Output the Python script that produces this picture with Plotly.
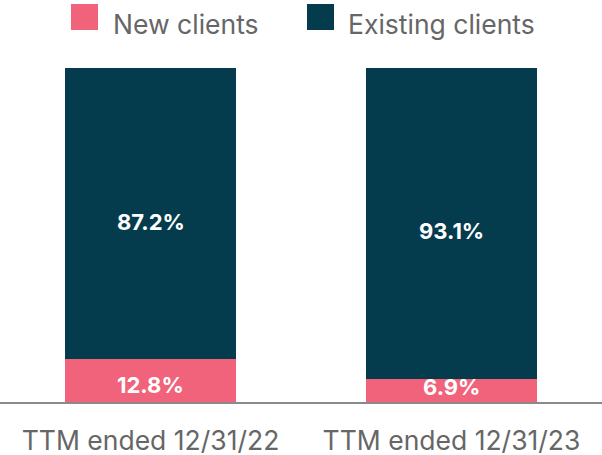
import plotly.graph_objects as go

categories = ["TTM ended 12/31/22", "TTM ended 12/31/23"]
new_clients = [12.8, 6.9]
existing_clients = [87.2, 93.1]
series_names = ["New clients", "Existing clients"]

PINK = "#F1627B"
DARK = "#043C4E"
FONT = "Inter, Roboto, sans-serif"

fig = go.Figure()
fig.add_trace(go.Bar(x=categories, y=new_clients, name=series_names[0],
                     marker=dict(color=PINK, line=dict(width=0)), width=0.565,
                     showlegend=False, hoverinfo="skip"))
fig.add_trace(go.Bar(x=categories, y=existing_clients, name=series_names[1],
                     marker=dict(color=DARK, line=dict(width=0)), width=0.565,
                     showlegend=False, hoverinfo="skip"))

annotations = []
small_shift = [-4, 3]
for i, cat in enumerate(categories):
    n, e = new_clients[i], existing_clients[i]
    annotations.append(dict(x=cat, y=n / 2, text=f"{n:.1f}%", showarrow=False,
                            yshift=small_shift[i],
                            font=dict(family=FONT, size=22, color="white", weight="bold")))
    annotations.append(dict(x=cat, y=n + e / 2, text=f"{e:.1f}%", showarrow=False,
                            yshift=-8,
                            font=dict(family=FONT, size=22, color="white", weight="bold")))

# legend (manual)
shapes = [
    dict(type="rect", xref="paper", yref="paper", x0=71/602, x1=98/602,
         y0=1 + (68-30)/334, y1=1 + (68-4)/334, fillcolor=PINK, line=dict(width=0)),
    dict(type="rect", xref="paper", yref="paper", x0=307/602, x1=334/602,
         y0=1 + (68-30)/334, y1=1 + (68-4)/334, fillcolor=DARK, line=dict(width=0)),
]
annotations.append(dict(xref="paper", yref="paper", x=111/602, y=1 + (68-24)/334,
                        xanchor="left", yanchor="middle", text=series_names[0],
                        showarrow=False, font=dict(family=FONT, size=26.5, color="#666666")))
annotations.append(dict(xref="paper", yref="paper", x=346/602, y=1 + (68-24)/334,
                        xanchor="left", yanchor="middle", text=series_names[1],
                        showarrow=False, font=dict(family=FONT, size=26.5, color="#666666")))

fig.update_layout(
    barmode="stack",
    width=602, height=455,
    margin=dict(l=0, r=0, t=68, b=53),
    paper_bgcolor="white", plot_bgcolor="white",
    annotations=annotations, shapes=shapes,
    hovermode=False,
    xaxis=dict(showline=True, linecolor="#8a8a8a", linewidth=2, ticks="",
               tickfont=dict(family=FONT, size=26.5, color="#666666"),
               ticklabelstandoff=14,
               showgrid=False, range=[-0.5, 1.5]),
    yaxis=dict(visible=False, range=[0, 100], showgrid=False, zeroline=False),
)
fig.write_html("out.html", config={"displayModeBar": False},
               post_script="document.body.style.margin='0';")
